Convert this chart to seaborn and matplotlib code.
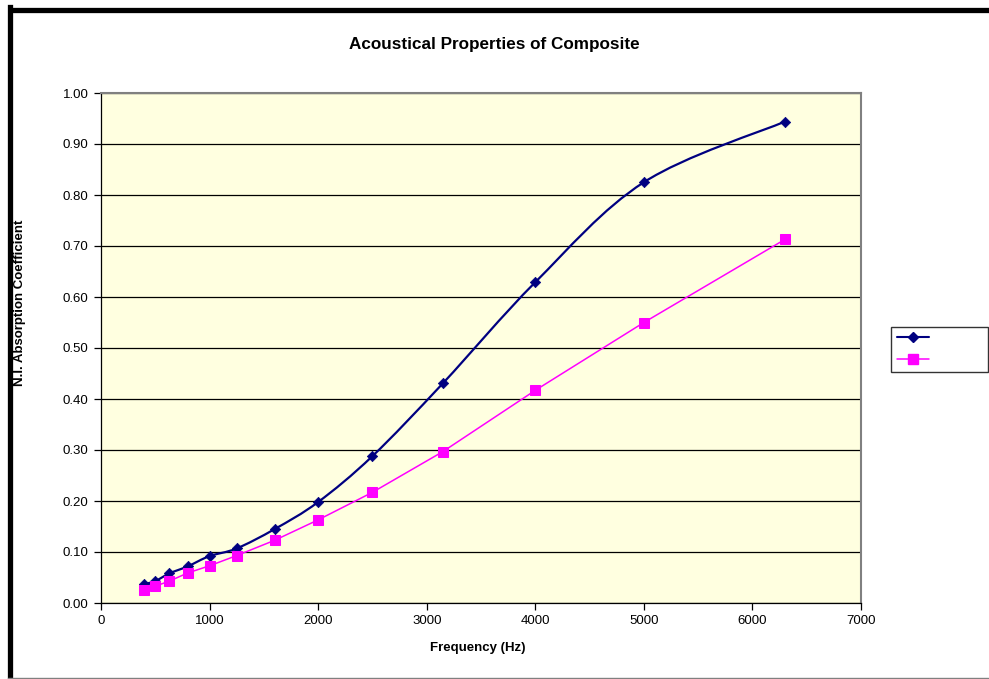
import numpy as np
import pandas as pd
import matplotlib
matplotlib.use("Agg")
import matplotlib.pyplot as plt
from matplotlib.path import Path
from matplotlib.patches import PathPatch
from matplotlib.lines import Line2D
import seaborn as sns

# Third-octave band centre frequencies (Hz)
frequency = [400, 500, 630, 800, 1000, 1250, 1600, 2000, 2500, 3150, 4000, 5000, 6300]
# Normal-incidence absorption coefficients for the two samples
sample_a = [0.037, 0.043, 0.058, 0.072, 0.092, 0.107, 0.145, 0.198, 0.288, 0.431, 0.629, 0.825, 0.944]
sample_b = [0.026, 0.033, 0.043, 0.059, 0.073, 0.093, 0.123, 0.163, 0.217, 0.297, 0.417, 0.550, 0.713]

y_ticks = [0.0, 0.1, 0.2, 0.3, 0.4, 0.5, 0.6, 0.7, 0.8, 0.9, 1.0]
x_ticks = [0, 1000, 2000, 3000, 4000, 5000, 6000, 7000]

NAVY = "#000080"
MAGENTA = "#FF00FF"

sns.set_theme(style="white")
plt.rcParams["font.family"] = ["Liberation Sans", "DejaVu Sans"]
plt.rcParams["text.color"] = "black"
plt.rcParams["xtick.color"] = "black"
plt.rcParams["ytick.color"] = "black"

df = pd.DataFrame({"freq": frequency, "a": sample_a, "b": sample_b})

W, H = 989, 679
fig = plt.figure(figsize=(W / 100, H / 100), dpi=100)
fig.patch.set_facecolor("white")
ax = fig.add_axes([101 / W, 1 - 603 / H, (861 - 101) / W, (603 - 93) / H])
ax.set_facecolor("#FFFFE0")


def smooth_path(xs, ys):
    """Bezier path through the points, spreadsheet-style smoothing."""
    pts = np.column_stack([xs, ys]).astype(float)
    n = len(pts)
    verts = [pts[0]]
    codes = [Path.MOVETO]
    for i in range(n - 1):
        p0 = pts[i - 1] if i > 0 else pts[i]
        p1 = pts[i]
        p2 = pts[i + 1]
        p3 = pts[i + 2] if i + 2 < n else pts[i + 1]
        c1 = p1 + (p2 - p0) / 6.0
        c2 = p2 - (p3 - p1) / 6.0
        verts += [c1, c2, p2]
        codes += [Path.CURVE4] * 3
    return Path(verts, codes)


# Sample A: smoothed curve with diamond markers
ax.add_patch(PathPatch(smooth_path(df["freq"], df["a"]), facecolor="none",
                       edgecolor=NAVY, lw=1.6, zorder=3))
sns.scatterplot(data=df, x="freq", y="a", marker="D", s=28, color=NAVY,
                edgecolor=NAVY, linewidth=0.5, ax=ax, zorder=4, legend=False)

# Sample B: straight segments with square markers
sns.lineplot(data=df, x="freq", y="b", color=MAGENTA, lw=1.1, marker="s",
             markersize=6.5, markeredgecolor=MAGENTA, ax=ax, zorder=4, legend=False)

ax.set_xlim(0, 7000)
ax.set_ylim(0, 1.0)
ax.set_xticks(x_ticks)
ax.set_xticklabels([str(t) for t in x_ticks])
ax.set_yticks(y_ticks)
ax.set_yticklabels([f"{t:.2f}" for t in y_ticks])
ax.yaxis.grid(True, color="black", lw=0.9)
ax.xaxis.grid(False)
ax.set_axisbelow(True)

ax.tick_params(axis="both", which="major", labelsize=9.5, length=5, width=0.9,
               color="black", labelcolor="black", direction="out",
               bottom=True, left=True, pad=4)
for side in ("left", "bottom"):
    ax.spines[side].set_color("black")
    ax.spines[side].set_linewidth(0.9)
for side in ("top", "right"):
    ax.spines[side].set_color("#808080")
    ax.spines[side].set_linewidth(1.5)

ax.set_xlabel("")
ax.set_ylabel("")
fig.text(478 / W, 1 - 648 / H, "Frequency (Hz)", ha="center", va="center",
         fontsize=9.5, fontweight="bold", color="black")
fig.text(20 / W, 1 - 303 / H, "N.I. Absorption Coefficient", ha="center", va="center",
         rotation=90, fontsize=9.5, fontweight="bold", color="black")
fig.text(494 / W, 1 - 44 / H, "Acoustical Properties of Composite", ha="center",
         va="center", fontsize=12.3, fontweight="bold", color="black")

# Legend with unlabeled entries
handles = [
    Line2D([], [], color=NAVY, lw=1.5, marker="D", markersize=5),
    Line2D([], [], color=MAGENTA, lw=1.1, marker="s", markersize=6.5),
]
leg = fig.legend(handles, [" " * 13, " " * 13], loc="upper left",
                 bbox_to_anchor=(891 / W, 1 - 327 / H), fontsize=9,
                 frameon=True, fancybox=False, handlelength=2.6,
                 handletextpad=0.6, borderpad=0.45, labelspacing=0.75,
                 borderaxespad=0)
leg.get_frame().set_edgecolor("black")
leg.get_frame().set_linewidth(1.0)

# Chart frame
fig.add_artist(Line2D([10 / W, 10 / W], [0, 1 - 7 / H], color="black", lw=3.8,
                      transform=fig.transFigure, solid_capstyle="projecting"))
fig.add_artist(Line2D([8 / W, 1], [1 - 10 / H, 1 - 10 / H], color="black", lw=3.8,
                      transform=fig.transFigure, solid_capstyle="butt"))
fig.add_artist(Line2D([8 / W, 1], [1 - 677.5 / H, 1 - 677.5 / H], color="#808080",
                      lw=1.0, transform=fig.transFigure))

fig.savefig("out.png", dpi=100, facecolor="white")
